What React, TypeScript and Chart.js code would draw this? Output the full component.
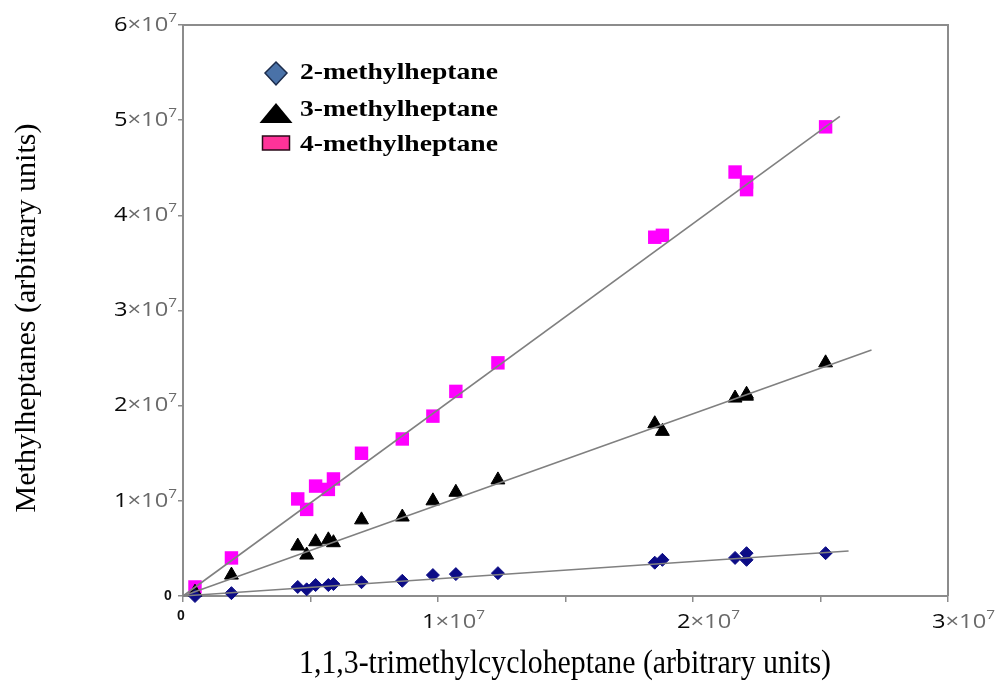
import React, { useEffect, useRef } from 'react';
import { Chart, registerables } from 'chart.js';

Chart.register(...registerables);

// Values in units of 1e7 (arbitrary units)
const SCALE = 1e7;
const sampleX = [0.047, 0.19, 0.45, 0.485, 0.52, 0.57, 0.59, 0.7, 0.86, 0.98, 1.07, 1.235, 1.85, 1.88, 2.165, 2.21, 2.21, 2.52];
const methyl2 = [0.0, 0.03, 0.095, 0.07, 0.115, 0.115, 0.125, 0.145, 0.16, 0.22, 0.23, 0.24, 0.35, 0.38, 0.4, 0.45, 0.38, 0.45];
const methyl3 = [0.04, 0.22, 0.525, 0.43, 0.57, 0.59, 0.56, 0.8, 0.83, 1.0, 1.09, 1.22, 1.81, 1.73, 2.08, 2.12, 2.1, 2.45];
const methyl4 = [0.095, 0.4, 1.02, 0.91, 1.155, 1.12, 1.23, 1.5, 1.65, 1.89, 2.15, 2.45, 3.77, 3.79, 4.455, 4.35, 4.27, 4.93];

// Trend line end points (x, y) in units of 1e7
const fit2X = [0, 2.61];
const fit2Y = [0, 0.473];
const fit3X = [0, 2.7];
const fit3Y = [0, 2.585];
const fit4X = [0, 2.576];
const fit4Y = [0, 5.04];

const seriesNames = ['2-methylheptane', '3-methylheptane', '4-methylheptane'];
const xLabelTicks = [1, 2, 3];
const yLabelTicks = [1, 2, 3, 4, 5, 6];
const xTitle = '1,1,3-trimethylcycloheptane (arbitrary units)';
const yTitle = 'Methylheptanes (arbitrary units)';

const toPoints = (xs: number[], ys: number[]) => xs.map((x, i) => ({ x: x * SCALE, y: ys[i] * SCALE }));

function fitText(ctx: CanvasRenderingContext2D, text: string, x: number, y: number, width: number, align: 'left' | 'center') {
  const w = ctx.measureText(text).width;
  const sx = width / w;
  ctx.save();
  ctx.translate(x, y);
  ctx.scale(sx, 1);
  ctx.textAlign = 'left';
  ctx.fillText(text, align === 'center' ? -w / 2 : 0, 0);
  ctx.restore();
}

const LABEL_WIDTH = 63;
function drawSciLabel(ctx: CanvasRenderingContext2D, digit: string, x: number, y: number, align: 'left' | 'right') {
  ctx.save();
  ctx.textBaseline = 'middle';
  ctx.textAlign = 'left';
  const digitFont = '500 20px "Open Sans", "Liberation Sans", Arial, sans-serif';
  const mainFont = '20px "Open Sans", "Liberation Sans", Arial, sans-serif';
  const supFont = '13px "Open Sans", "Liberation Sans", Arial, sans-serif';
  ctx.font = digitFont;
  const w1 = ctx.measureText(digit).width;
  ctx.font = mainFont;
  const w2 = ctx.measureText('\u00d710').width;
  ctx.font = supFont;
  const w3 = ctx.measureText('7').width;
  const sx = LABEL_WIDTH / (w1 + w2 + w3);
  const left = align === 'right' ? x - LABEL_WIDTH : x;
  ctx.translate(left, y);
  ctx.scale(sx, 1);
  ctx.font = digitFont;
  ctx.fillStyle = '#0a0a0a';
  ctx.fillText(digit, 0, 0);
  ctx.font = mainFont;
  ctx.fillStyle = '#6a6a6a';
  ctx.fillText('\u00d710', w1, 0);
  ctx.font = supFont;
  ctx.fillText('7', w1 + w2, -7);
  ctx.restore();
}

const decorPlugin = {
  id: 'decor',
  afterDraw(chart: any) {
    const ctx: CanvasRenderingContext2D = chart.ctx;
    const { left, right, top, bottom } = chart.chartArea;
    const xs = chart.scales.x;
    const ys = chart.scales.y;
    ctx.save();
    // top and right frame
    ctx.strokeStyle = '#8c8c8c';
    ctx.lineWidth = 2;
    ctx.beginPath();
    ctx.moveTo(left, top);
    ctx.lineTo(right, top);
    ctx.lineTo(right, bottom);
    ctx.stroke();

    // tick labels
    yLabelTicks.forEach((v) => drawSciLabel(ctx, String(v), left - 6, ys.getPixelForValue(v * SCALE), 'right'));
    xLabelTicks.forEach((v) => drawSciLabel(ctx, String(v), xs.getPixelForValue(v * SCALE) - 16, bottom + 26, 'left'));
    ctx.font = 'bold 14px "Liberation Sans", Arial, sans-serif';
    ctx.fillStyle = '#111111';
    ctx.textBaseline = 'middle';
    ctx.textAlign = 'center';
    ctx.fillText('0', left - 15, ys.getPixelForValue(0));
    ctx.fillText('0', xs.getPixelForValue(0) - 2, bottom + 20);

    // axis titles
    ctx.fillStyle = '#000000';
    ctx.font = '33px "Liberation Serif", "Times New Roman", serif';
    ctx.textBaseline = 'middle';
    fitText(ctx, xTitle, 565, 664, 532, 'center');
    ctx.font = '30px "Liberation Serif", "Times New Roman", serif';
    ctx.save();
    ctx.translate(27, 318);
    ctx.rotate(-Math.PI / 2);
    fitText(ctx, yTitle, 0, 0, 389, 'center');
    ctx.restore();

    // legend
    const mx = 276;
    // diamond
    ctx.beginPath();
    ctx.moveTo(mx, 62);
    ctx.lineTo(mx + 11, 73);
    ctx.lineTo(mx, 85);
    ctx.lineTo(mx - 11, 73);
    ctx.closePath();
    ctx.fillStyle = '#4a72a8';
    ctx.fill();
    ctx.strokeStyle = '#1c2c4c';
    ctx.lineWidth = 1.5;
    ctx.stroke();
    // triangle
    ctx.beginPath();
    ctx.moveTo(mx, 103);
    ctx.lineTo(mx + 16.5, 123);
    ctx.lineTo(mx - 16.5, 123);
    ctx.closePath();
    ctx.fillStyle = '#000000';
    ctx.fill();
    // square
    ctx.fillStyle = '#ff3399';
    ctx.fillRect(mx - 13.5, 136, 27, 14);
    ctx.strokeStyle = '#2a0a18';
    ctx.lineWidth = 1.5;
    ctx.strokeRect(mx - 13.5, 136, 27, 14);

    ctx.fillStyle = '#000000';
    ctx.font = 'bold 23px "Liberation Serif", "Times New Roman", serif';
    ctx.textBaseline = 'alphabetic';
    const baselines = [79, 116, 151];
    seriesNames.forEach((n, i) => fitText(ctx, n, 300, baselines[i], 198, 'left'));
    ctx.restore();
  },
};

export default function App() {
  const ref = useRef<HTMLCanvasElement | null>(null);
  useEffect(() => {
    if (!ref.current) return;
    const lineStyle = {
      type: 'line' as const,
      borderColor: '#808080',
      borderWidth: 1.6,
      pointRadius: 0,
      showLine: true,
      fill: false,
      clip: false as any,
      order: 0,
    };
    const chart = new Chart(ref.current, {
      type: 'scatter',
      data: {
        datasets: [
          { ...lineStyle, label: 'fit2', data: toPoints(fit2X, fit2Y) },
          { ...lineStyle, label: 'fit3', data: toPoints(fit3X, fit3Y) },
          { ...lineStyle, label: 'fit4', data: toPoints(fit4X, fit4Y) },
          {
            label: seriesNames[0],
            data: toPoints(sampleX, methyl2),
            pointStyle: 'rectRot',
            pointRadius: 6.5,
            backgroundColor: '#0c0c86',
            borderColor: '#0c0c86',
            borderWidth: 1,
            clip: false as any,
            order: 1,
          },
          {
            label: seriesNames[1],
            data: toPoints(sampleX, methyl3),
            pointStyle: 'triangle',
            pointRadius: 8,
            backgroundColor: '#000000',
            borderColor: '#000000',
            borderWidth: 1,
            clip: false as any,
            order: 1,
          },
          {
            label: seriesNames[2],
            data: toPoints(sampleX, methyl4),
            pointStyle: 'rect',
            pointRadius: 9.5,
            backgroundColor: '#ff00ff',
            borderColor: '#ff00ff',
            borderWidth: 0,
            clip: false as any,
            order: 1,
          },
        ] as any,
      },
      options: {
        animation: false,
        responsive: false,
        layout: { padding: { top: 25, right: 48, left: 0, bottom: 0 } },
        plugins: { legend: { display: false }, tooltip: { enabled: false } },
        scales: {
          x: {
            type: 'linear',
            min: 0,
            max: 3 * SCALE,
            afterFit: (s: any) => { s.height = 87; },
            ticks: { stepSize: 0.5 * SCALE, callback: () => '', autoSkip: false, maxRotation: 0 },
            grid: { display: true, drawOnChartArea: false, drawTicks: true, tickLength: 6, color: '#8c8c8c', lineWidth: 1.5 },
            border: { display: true, color: '#8c8c8c', width: 2 },
          },
          y: {
            type: 'linear',
            min: 0,
            max: 6 * SCALE,
            afterFit: (s: any) => { s.width = 183; },
            ticks: { stepSize: 1 * SCALE, callback: () => '', autoSkip: false },
            grid: { display: true, drawOnChartArea: false, drawTicks: true, tickLength: 5, color: '#8c8c8c', lineWidth: 1.5 },
            border: { display: true, color: '#8c8c8c', width: 2 },
          },
        },
      } as any,
      plugins: [decorPlugin],
    });
    return () => chart.destroy();
  }, []);
  return (
    <div style={{ position: 'absolute', left: 0, top: 0, width: 996, height: 683, background: '#ffffff' }}>
      <canvas ref={ref} width={996} height={683} style={{ display: 'block', width: 996, height: 683 }} />
    </div>
  );
}
